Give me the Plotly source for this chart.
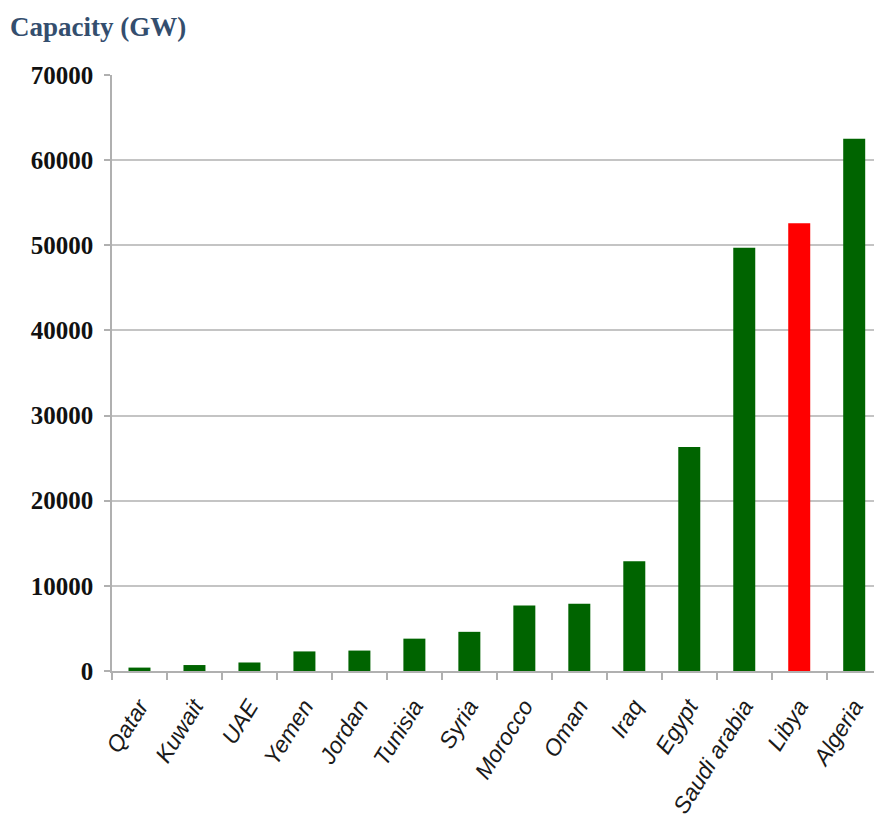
import plotly.graph_objects as go

countries = ["Qatar", "Kuwait", "UAE", "Yemen", "Jordan", "Tunisia", "Syria",
             "Morocco", "Oman", "Iraq", "Egypt", "Saudi arabia", "Libya", "Algeria"]
capacity_gw = [400, 700, 1000, 2300, 2400, 3800, 4600,
               7700, 7900, 12900, 26300, 49700, 52600, 62500]
highlight = "Libya"
y_ticks = [0, 10000, 20000, 30000, 40000, 50000, 60000, 70000]

bar_colors = ["#ff0000" if c == highlight else "#006400" for c in countries]

fig = go.Figure(go.Bar(
    x=countries,
    y=capacity_gw,
    marker=dict(color=bar_colors, line=dict(width=0)),
    width=0.4,
))

fig.update_layout(
    width=874,
    height=836,
    margin=dict(l=112, r=0, t=75, b=165),
    paper_bgcolor="white",
    plot_bgcolor="white",
    showlegend=False,
    bargap=0.6,
)

fig.update_yaxes(
    range=[0, 70000],
    tickvals=y_ticks,
    ticktext=[str(v) for v in y_ticks],
    showgrid=True,
    gridcolor="#c4c4c4",
    gridwidth=1.5,
    zeroline=False,
    showline=True,
    linecolor="#b0b0b0",
    linewidth=1.5,
    ticks="outside",
    ticklen=6,
    tickcolor="#b0b0b0",
    tickwidth=1.5,
    ticklabelstandoff=6,
    tickfont=dict(family="Liberation Serif", size=25, color="#111111", weight="bold"),
)

fig.update_xaxes(
    type="category",
    range=[-0.5, 13.36],
    showline=True,
    linecolor="#b0b0b0",
    linewidth=1.5,
    ticks="outside",
    tickson="boundaries",
    ticklen=7,
    tickcolor="#b0b0b0",
    tickwidth=1.5,
    tickangle=-58,
    ticklabelstandoff=11,
    tickfont=dict(family="Liberation Sans", size=23, color="#1a1a1a", style="italic"),
)

fig.add_annotation(
    text="Capacity (GW)",
    xref="paper", yref="paper",
    x=-112 / 762, y=1 + 48 / 596,
    xanchor="left", yanchor="middle",
    xshift=8,
    showarrow=False,
    font=dict(family="Liberation Serif", size=27, color="#344e6e", weight="bold"),
)

fig.write_html("out.html")
